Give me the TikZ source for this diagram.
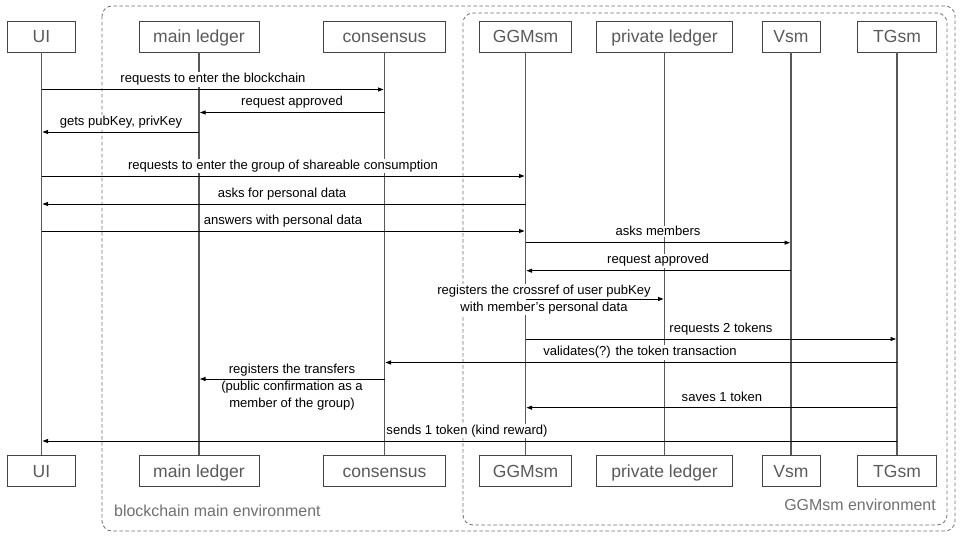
\documentclass[tikz,border=0pt]{standalone}
\usepackage{fontspec}
\setmainfont{Liberation Sans}
\usetikzlibrary{arrows.meta,calc}
\definecolor{boxline}{HTML}{444444}
\definecolor{boxtext}{HTML}{5A5A5A}
\definecolor{lifec}{HTML}{585858}
\definecolor{envc}{HTML}{707070}
\tikzset{
 actor/.style={draw=boxline, line width=0.8bp, text=boxtext, minimum height=31bp, inner sep=0pt, font=\fontsize{17.6}{20}\selectfont, text height=12.5bp, text depth=0pt},
 life/.style={draw=lifec, line width=1.8bp},
 msg/.style={draw=black, line width=0.9bp, -{Triangle[length=5.5bp,width=4bp]}, shorten >=1bp},
 lbl/.style={fill=white, inner sep=1bp, font=\fontsize{13.1}{17}\selectfont, align=center},
 env/.style={draw=envc, line width=0.8bp, dash pattern=on 3.5bp off 2.5bp, rounded corners=10bp},
 envlbl/.style={text=envc, font=\fontsize{16}{18}\selectfont, inner sep=0pt},
}
\begin{document}
\begin{tikzpicture}[x=1bp,y=-1bp]
\useasboundingbox (0,0) rectangle (960,540);
\fill[white] (0,0) rectangle (960,540);
% environments
\draw[env] (102,6) rectangle (955,531);
\draw[env] (463,13) rectangle (947,525);
\node[envlbl, anchor=base west] (envmain) at (114,516.5) {blockchain main environment};
\node[envlbl, anchor=base east] (envggm) at (936,510.5) {GGMsm environment};
% actors top
\node[actor, minimum width=68bp] (t-ui) at (41.5,36.5) {UI};
\node[actor, minimum width=120bp] (t-ml) at (199,36.5) {main ledger};
\node[actor, minimum width=122bp] (t-cons) at (384.5,36.5) {consensus};
\node[actor, minimum width=92bp] (t-ggm) at (525.5,36.5) {GGMsm};
\node[actor, minimum width=136bp] (t-pl) at (664.5,36.5) {private ledger};
\node[actor, minimum width=58bp] (t-vsm) at (791,36.5) {Vsm};
\node[actor, minimum width=79bp] (t-tg) at (897,36.5) {TGsm};
% actors bottom
\node[actor, minimum width=68bp] (b-ui) at (41.5,471) {UI};
\node[actor, minimum width=120bp] (b-ml) at (199,471) {main ledger};
\node[actor, minimum width=122bp] (b-cons) at (384.5,471) {consensus};
\node[actor, minimum width=92bp] (b-ggm) at (525.5,471) {GGMsm};
\node[actor, minimum width=136bp] (b-pl) at (664.5,471) {private ledger};
\node[actor, minimum width=58bp] (b-vsm) at (791,471) {Vsm};
\node[actor, minimum width=79bp] (b-tg) at (897,471) {TGsm};
% lifelines
\foreach \a in {ui,ml,cons,ggm,pl,vsm,tg}
  \draw[life] (t-\a.south) -- (b-\a.north);
% rows
\coordinate (r1) at (0,89.5);
\coordinate (r2) at (0,112.5);
\coordinate (r3) at (0,132);
\coordinate (r4) at (0,176);
\coordinate (r5) at (0,204);
\coordinate (r6) at (0,231);
\coordinate (r7) at (0,242.7);
\coordinate (r8) at (0,270.7);
\coordinate (r9) at (0,299);
\coordinate (r10) at (0,339);
\coordinate (r11) at (0,362.5);
\coordinate (r12) at (0,379);
\coordinate (r13) at (0,407.7);
\coordinate (r14) at (0,441);
% labels
\node[lbl, anchor=base] (l1) at (213,82.8) {requests to enter the blockchain};
\node[lbl, anchor=base] (l2) at (292,105.8) {request approved};
\node[lbl, anchor=base] (l3) at (121,125.3) {gets pubKey, privKey};
\node[lbl, anchor=base] (l4) at (283,169.3) {requests to enter the group of shareable consumption};
\node[lbl, anchor=base] (l5) at (282,197.3) {asks for personal data};
\node[lbl, anchor=base] (l6) at (283,224.3) {answers with personal data};
\node[lbl, anchor=base] (l7) at (658,236) {asks members};
\node[lbl, anchor=base] (l8) at (658,264) {request approved};
\node[lbl] (l9) at (544,299.5) {registers the crossref of user pubKey\\with member’s personal data};
\node[lbl, anchor=base] (l10) at (721,332.3) {requests 2 tokens};
\node[lbl, anchor=base] (l11) at (640,355.8) {validates(?) the token transaction};
\node[lbl] (l12) at (292,387) {registers the transfers\\(public confirmation as a\\member of the group)};
\node[lbl, anchor=base] (l13) at (722,401) {saves 1 token};
\node[lbl, anchor=base] (l14) at (467,434.3) {sends 1 token (kind reward)};
% messages
\draw[msg] (t-ui |- r1) -- (t-cons |- r1);
\draw[msg] (t-cons |- r2) -- (t-ml |- r2);
\draw[msg] (t-ml |- r3) -- (t-ui |- r3);
\draw[msg] (t-ui |- r4) -- (t-ggm |- r4);
\draw[msg] (t-ggm |- r5) -- (t-ui |- r5);
\draw[msg] (t-ui |- r6) -- (t-ggm |- r6);
\draw[msg] (t-ggm |- r7) -- (t-vsm |- r7);
\draw[msg] (t-vsm |- r8) -- (t-ggm |- r8);
\draw[msg] (t-ggm |- r9) -- (t-pl |- r9);
\draw[msg] (t-ggm |- r10) -- (t-tg |- r10);
\draw[msg] (t-tg |- r11) -- (t-cons |- r11);
\draw[msg] (t-cons |- r12) -- (t-ml |- r12);
\draw[msg] (t-tg |- r13) -- (t-ggm |- r13);
\draw[msg] (t-tg |- r14) -- (t-ui |- r14);
\end{tikzpicture}
\end{document}
